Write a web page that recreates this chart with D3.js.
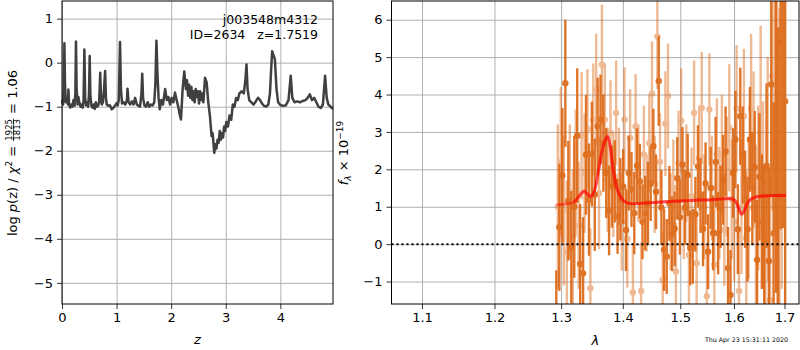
<!DOCTYPE html>
<html>
<head>
<meta charset="utf-8">
<script src="https://cdn.jsdelivr.net/npm/d3@7"></script>
<style>
  body { margin: 0; background: #fff; }
  svg { font-family: "DejaVu Sans", sans-serif; }
  text { white-space: pre; }
</style>
</head>
<body>
<div id="chart"></div>
<script>
// redshift posterior, left panel
const zGrid = [0, 0.02, 0.035, 0.044, 0.055, 0.07, 0.09, 0.11, 0.117, 0.13, 0.15, 0.17, 0.19, 0.21, 0.23, 0.245, 0.256, 0.268, 0.285, 0.30,
  0.32, 0.34, 0.36, 0.38, 0.395, 0.41, 0.425, 0.44, 0.46, 0.48, 0.495, 0.507, 0.52, 0.54, 0.56, 0.58, 0.60, 0.62, 0.64, 0.66,
  0.68, 0.69, 0.70, 0.715, 0.73, 0.75, 0.77, 0.79, 0.805, 0.82, 0.85, 0.88, 0.91, 0.94, 0.97, 1.00, 1.02, 1.04, 1.063, 1.08,
  1.10, 1.13, 1.16, 1.19, 1.20, 1.22, 1.25, 1.28, 1.31, 1.34, 1.37, 1.40, 1.43, 1.455, 1.47, 1.485, 1.51, 1.54, 1.57, 1.60,
  1.63, 1.66, 1.69, 1.71, 1.73, 1.75, 1.77, 1.79, 1.82, 1.85, 1.89, 1.92, 1.95, 1.98, 2.01, 2.04, 2.07, 2.10, 2.13, 2.16,
  2.18, 2.21, 2.24, 2.27, 2.29, 2.31, 2.33, 2.35, 2.37, 2.39, 2.41, 2.43, 2.45, 2.47, 2.49, 2.51, 2.53, 2.55, 2.57, 2.59,
  2.62, 2.65, 2.68, 2.71, 2.74, 2.76, 2.79, 2.81, 2.83, 2.85, 2.87, 2.89, 2.91, 2.93, 2.95, 2.97, 2.99, 3.01, 3.04, 3.07,
  3.10, 3.13, 3.16, 3.19, 3.22, 3.25, 3.29, 3.33, 3.36, 3.38, 3.40, 3.43, 3.47, 3.51, 3.55, 3.59, 3.63, 3.66, 3.70, 3.74,
  3.78, 3.81, 3.83, 3.85, 3.88, 3.90, 3.93, 3.96, 4.00, 4.05, 4.10, 4.15, 4.19, 4.22, 4.26, 4.31, 4.36, 4.41, 4.46, 4.50,
  4.54, 4.58, 4.62, 4.66, 4.70, 4.74, 4.78, 4.82, 4.85, 4.88, 4.92, 4.96];
const logPz = [-0.85, -0.95, -0.6, 0.44, -0.5, -0.9, -0.8, -0.95, -0.61, -0.95, -1.02, -0.95, -1.0, -0.85, -0.98, -0.7, 0.48, -0.6, -0.95, -0.78,
  -0.92, -1.0, -0.95, -1.02, -0.85, 0.30, -0.8, -0.97, -0.9, -1.0, -0.7, 0.15, -0.75, -0.98, -1.02, -0.95, -1.05, -0.9, -1.0, -0.98,
  -0.9, -0.6, -0.23, -0.8, -0.95, -0.9, -0.6, -0.19, -0.8, -0.95, -0.98, -0.97, -1.06, -1.03, -0.98, -0.92, -0.97, -0.85, 0.47, -0.6,
  -0.93, -0.9, -0.95, -0.85, -0.59, -0.9, -0.95, -0.88, -0.95, -0.8, -0.95, -0.98, -1.0, -0.7, -0.25, -0.8, -0.97, -1.0, -0.9, -1.0,
  -0.95, -0.97, -0.9, -0.5, 0.50, -0.3, -0.8, -1.06, -0.85, -0.95, -0.6, -0.85, -0.78, -0.95, -0.8, -0.9, -0.68, -0.85, -1.0, -1.2,
  -1.29, -0.6, -0.2, -0.6, -0.4, -0.75, -0.5, -0.8, -0.55, -0.85, -0.65, -0.9, -0.6, -0.78, -0.65, -0.93, -0.65, -0.85, -0.7, -0.9,
  -0.34, -0.45, -0.9, -1.21, -1.67, -1.6, -2.05, -1.85, -1.95, -1.75, -1.82, -1.55, -1.75, -1.6, -1.7, -1.45, -1.55, -1.35, -1.45, -1.2,
  -1.3, -0.95, -1.0, -0.8, -0.85, -0.7, -0.65, -0.7, -0.4, -0.04, -0.6, -0.85, -0.9, -0.95, -0.88, -0.8, -0.85, -0.92, -0.98, -1.0,
  -0.95, -0.7, -0.2, 0.26, 0.15, 0.08, -0.6, -0.9, -0.96, -0.98, -0.97, -0.85, -0.30, -0.8, -0.9, -0.88, -0.9, -0.87, -0.85, -0.8,
  -0.72, -0.85, -0.8, -0.9, -1.0, -1.03, -0.95, -0.30, -0.8, -0.95, -1.0, -1.05];

// spectrum, right panel: two grism orients
const lamA = [1.2925, 1.2972, 1.3019, 1.3066, 1.3113, 1.3160, 1.3207, 1.3254, 1.3301, 1.3348,
  1.3395, 1.3442, 1.3489, 1.3536, 1.3583, 1.3630, 1.3677, 1.3724, 1.3771, 1.3818,
  1.3865, 1.3912, 1.3959, 1.4006, 1.4053, 1.4100, 1.4147, 1.4194, 1.4241, 1.4288,
  1.4335, 1.4382, 1.4429, 1.4476, 1.4523, 1.4570, 1.4617, 1.4664, 1.4711, 1.4758,
  1.4805, 1.4852, 1.4899, 1.4946, 1.4993, 1.5040, 1.5087, 1.5134, 1.5181, 1.5228,
  1.5275, 1.5322, 1.5369, 1.5416, 1.5463, 1.5510, 1.5557, 1.5604, 1.5651, 1.5698,
  1.5745, 1.5792, 1.5839, 1.5886, 1.5933, 1.5980, 1.6027, 1.6074, 1.6121, 1.6168,
  1.6215, 1.6262, 1.6309, 1.6356, 1.6403, 1.6450, 1.6497, 1.6544, 1.6591, 1.6638,
  1.6685, 1.6732, 1.6779, 1.6826, 1.6873, 1.6920, 1.6967, 1.7014];
const fluxA = [-3.2, 0.45, 1.84, 4.30, 1.16, -0.08, 1.00, 2.90, -0.53, -0.78,
  2.39, 1.19, 2.41, 1.32, 3.15, 3.33, 2.70, 1.90, 0.90, 1.54,
  1.68, 0.74, 1.20, 1.54, 0.38, 1.90, 1.46, 0.83, 2.10, 1.68,
  0.60, 0.83, 1.10, 1.62, 2.62, 1.40, 4.36, 0.98, -0.15, -0.33,
  1.09, 0.28, 0.41, 1.76, 0.72, 2.13, 0.98, 1.85, -0.10, -0.06,
  0.80, 2.08, 1.30, 0.41, 1.62, -0.20, 1.50, 0.30, 2.20, 0.29,
  1.00, 1.72, 2.48, -0.64, -1.36, 1.90, 2.80, 0.40, 3.42, 2.38,
  1.20, 0.40, 2.80, 1.50, 2.06, -0.42, 1.80, 0.60, 0.09, 2.10,
  -0.45, 4.27, 0.29, 2.70, 1.30, 5.40, 5.93, 3.82];
const errA = [2.5, 1.7, 1.8, 1.7, 1.6, 1.5, 1.9, 1.8, 1.6, 1.5,
  1.6, 1.5, 1.4, 1.5, 1.3, 1.2, 1.3, 1.2, 1.2, 1.1,
  1.1, 1.0, 1.1, 1.0, 1.1, 1.0, 1.0, 1.1, 1.0, 1.0,
  1.0, 1.0, 1.1, 1.0, 1.0, 1.0, 1.2, 1.0, 1.1, 1.0,
  1.0, 1.0, 1.0, 1.1, 1.0, 1.0, 1.0, 1.1, 1.0, 1.0,
  1.0, 1.1, 1.0, 1.0, 1.1, 1.0, 1.1, 1.0, 1.2, 1.1,
  1.1, 1.2, 1.2, 1.1, 1.2, 1.2, 1.3, 1.2, 1.3, 1.3,
  1.3, 1.4, 1.4, 1.5, 1.5, 1.6, 1.7, 1.8, 2.0, 2.2,
  2.5, 3.0, 3.5, 4.0, 4.5, 5.0, 5.5, 6.0];

const lamB = [1.2948, 1.2995, 1.3042, 1.3089, 1.3136, 1.3183, 1.3230, 1.3277, 1.3324, 1.3371,
  1.3418, 1.3465, 1.3512, 1.3559, 1.3606, 1.3653, 1.3700, 1.3747, 1.3794, 1.3841,
  1.3888, 1.3935, 1.3982, 1.4029, 1.4076, 1.4123, 1.4170, 1.4217, 1.4264, 1.4311,
  1.4358, 1.4405, 1.4452, 1.4499, 1.4546, 1.4593, 1.4640, 1.4687, 1.4734, 1.4781,
  1.4828, 1.4875, 1.4922, 1.4969, 1.5016, 1.5063, 1.5110, 1.5157, 1.5204, 1.5251,
  1.5298, 1.5345, 1.5392, 1.5439, 1.5486, 1.5533, 1.5580, 1.5627, 1.5674, 1.5721,
  1.5768, 1.5815, 1.5862, 1.5909, 1.5956, 1.6003, 1.6050, 1.6097, 1.6144, 1.6191,
  1.6238, 1.6285, 1.6332, 1.6379, 1.6426, 1.6473, 1.6520, 1.6567, 1.6614, 1.6661,
  1.6708, 1.6755, 1.6802, 1.6849, 1.6896, 1.6943];
const fluxB = [1.0, 2.2, 0.9, -0.2, 1.4, 0.2, 1.9, 0.5, 2.9, 1.9,
  3.08, -1.18, 3.33, 4.13, 1.37, 4.8, 3.33, 1.72, 2.98, 1.59,
  3.51, 1.81, 0.59, 3.33, 0.14, 2.84, -1.29, 3.15, 1.9, -1.25,
  2.4, 1.1, 2.7, 4.02, 1.6, 5.55, 2.2, -0.96, 3.22, 3.96,
  0.6, 1.5, -0.73, 2.17, 3.3, 0.9, 1.9, -0.29, 1.28, 3.51,
  -0.51, 2.3, 3.64, 1.0, -1.39, 3.6, 1.5, -0.55, 2.4, 1.1,
  2.39, 0.38, 1.81, 3.11, 1.2, 0.6, 3.62, -1.25, 1.0, 3.42,
  0.16, 0.97, 3.62, 2.62, 0.5, 1.5, 3.54, 1.32, -0.6, 2.0,
  -1.49, 4.49, 4.36, 2.7, 1.3, 4.3];
const errB = [2.2, 2.0, 2.0, 1.9, 1.8, 1.8, 1.7, 1.7, 1.7, 1.6,
  1.6, 1.6, 1.5, 1.5, 1.5, 1.6, 1.5, 1.4, 1.4, 1.4,
  1.4, 1.3, 1.3, 1.4, 1.3, 1.3, 1.3, 1.4, 1.3, 1.3,
  1.3, 1.3, 1.3, 1.4, 1.3, 1.4, 1.3, 1.3, 1.4, 1.4,
  1.3, 1.3, 1.3, 1.4, 1.4, 1.3, 1.3, 1.4, 1.3, 1.4,
  1.4, 1.4, 1.5, 1.4, 1.4, 1.5, 1.4, 1.5, 1.5, 1.5,
  1.6, 1.5, 1.6, 1.7, 1.6, 1.6, 1.7, 1.7, 1.8, 1.8,
  1.8, 1.9, 2.0, 2.0, 2.1, 2.2, 2.3, 2.5, 2.7, 3.0,
  3.3, 3.6, 4.0, 4.5, 5.0, 5.5];

// best-fit model
const modelLam = [1.293, 1.300, 1.310, 1.320, 1.327, 1.333, 1.337, 1.341, 1.346, 1.350, 1.355, 1.360, 1.365, 1.370, 1.375, 1.379, 1.383,
  1.387, 1.392, 1.398, 1.405, 1.415, 1.430, 1.450, 1.480, 1.520, 1.560, 1.590, 1.598, 1.605, 1.610, 1.615, 1.620, 1.627, 1.635,
  1.645, 1.660, 1.680, 1.703];
const modelFlux = [1.05, 1.06, 1.08, 1.12, 1.25, 1.38, 1.42, 1.35, 1.28, 1.32, 1.55, 2.0, 2.45, 2.75, 2.88, 2.6, 2.1,
  1.7, 1.4, 1.22, 1.12, 1.08, 1.09, 1.11, 1.14, 1.17, 1.19, 1.22, 1.20, 1.10, 0.92, 0.80, 0.90, 1.12, 1.22,
  1.27, 1.29, 1.30, 1.30];

const zTicks = [0, 1, 2, 3, 4];
const pzTicks = [-5, -4, -3, -2, -1, 0, 1];
const lamTicks = [1.1, 1.2, 1.3, 1.4, 1.5, 1.6, 1.7];
const fluxTicks = [-1, 0, 1, 2, 3, 4, 5, 6];

const W = 800, H = 350;
const svg = d3.select('#chart').append('svg').attr('width', W).attr('height', H);

const gridColor = '#b0b0b0';
const fs = 13;

function styleAxis(g) {
  g.selectAll('.domain').remove();
  g.selectAll('.tick line').attr('stroke', '#000').attr('stroke-width', 0.8);
  g.selectAll('.tick text').attr('font-size', fs).attr('fill', '#000').attr('font-family', 'DejaVu Sans');
}

function gridAxis(g) {
  g.selectAll('.domain').remove();
  g.selectAll('.tick text').remove();
  g.selectAll('.tick line').attr('stroke', gridColor).attr('stroke-width', 1);
}

// ---------- left panel ----------
const L = {x0: 62, x1: 333, y0: 1, y1: 304};
const xz = d3.scaleLinear().domain([0, 4.965]).range([L.x0, L.x1]);
const yp = d3.scaleLinear().domain([-5.48, 1.40]).range([L.y1, L.y0]);

svg.append('g').attr('transform', `translate(0,${L.y1})`)
  .call(d3.axisBottom(xz).tickValues(zTicks).tickSize(-(L.y1 - L.y0)).tickFormat('')).call(gridAxis);
svg.append('g').attr('transform', `translate(${L.x0},0)`)
  .call(d3.axisLeft(yp).tickValues(pzTicks).tickSize(-(L.x1 - L.x0)).tickFormat('')).call(gridAxis);

svg.append('path')
  .datum(zGrid.map((z, i) => [z, logPz[i]]))
  .attr('fill', 'none').attr('stroke', '#404040').attr('stroke-width', 2.5)
  .attr('stroke-linejoin', 'round')
  .attr('d', d3.line().x(d => xz(d[0])).y(d => yp(d[1])));

svg.append('g').attr('transform', `translate(0,${L.y1})`)
  .call(d3.axisBottom(xz).tickValues(zTicks).tickSize(5).tickPadding(4).tickFormat(d3.format('d'))).call(styleAxis);
svg.append('g').attr('transform', `translate(${L.x0},0)`)
  .call(d3.axisLeft(yp).tickValues(pzTicks).tickSize(5).tickPadding(4).tickFormat(d3.format('d'))).call(styleAxis);

svg.append('rect').attr('x', L.x0).attr('y', L.y0).attr('width', L.x1 - L.x0).attr('height', L.y1 - L.y0)
  .attr('fill', 'none').attr('stroke', '#000').attr('stroke-width', 1);

svg.append('text').attr('x', 318).attr('y', 24).attr('text-anchor', 'end').attr('font-size', 12.5).text('j003548m4312');
svg.append('text').attr('x', 318).attr('y', 38.5).attr('text-anchor', 'end').attr('font-size', 12.5).text('ID=2634   z=1.7519');

svg.append('text').attr('x', (L.x0 + L.x1) / 2).attr('y', 344).attr('text-anchor', 'middle')
  .attr('font-size', fs).attr('font-style', 'italic').text('z');

// y label with a small fraction
(function () {
  const outer = svg.append('g').attr('transform', 'translate(17,153) rotate(-90)');
  const g = outer.append('g');
  const t1 = g.append('text').attr('font-size', fs);
  t1.append('tspan').text('log ');
  t1.append('tspan').attr('font-style', 'italic').text('p');
  t1.append('tspan').text('(z) / ');
  t1.append('tspan').attr('font-style', 'italic').text('χ');
  t1.append('tspan').attr('font-size', 9).attr('dy', -5).text('2');
  t1.append('tspan').attr('dy', 5).text(' = ');
  const w1 = t1.node().getComputedTextLength();
  const num = g.append('text').attr('font-size', 8.5).attr('x', w1 + 1).attr('y', -4.8).text('1925');
  const den = g.append('text').attr('font-size', 8.5).attr('x', w1 + 1).attr('y', 3.4).text('1813');
  const wf = Math.max(num.node().getComputedTextLength(), den.node().getComputedTextLength()) + 2;
  g.append('line').attr('x1', w1 + 0.5).attr('x2', w1 + wf - 0.5).attr('y1', -3.5).attr('y2', -3.5)
    .attr('stroke', '#000').attr('stroke-width', 0.7);
  const t2 = g.append('text').attr('font-size', fs).attr('x', w1 + wf).text(' = 1.06');
  const total = w1 + wf + t2.node().getComputedTextLength();
  g.attr('transform', `translate(${-total / 2},0)`);
})();

// ---------- right panel ----------
const R = {x0: 391.5, x1: 799, y0: 1, y1: 304};
const xl = d3.scaleLog().domain([1.0604, 1.7299]).range([R.x0, R.x1]);
const yf = d3.scaleLinear().domain([-1.6, 6.5]).range([R.y1, R.y0]);

svg.append('defs').append('clipPath').attr('id', 'clipR')
  .append('rect').attr('x', R.x0).attr('y', R.y0).attr('width', R.x1 - R.x0).attr('height', R.y1 - R.y0);

svg.append('g').attr('transform', `translate(0,${R.y1})`)
  .call(d3.axisBottom(xl).tickValues(lamTicks).tickSize(-(R.y1 - R.y0)).tickFormat('')).call(gridAxis);
svg.append('g').attr('transform', `translate(${R.x0},0)`)
  .call(d3.axisLeft(yf).tickValues(fluxTicks).tickSize(-(R.x1 - R.x0)).tickFormat('')).call(gridAxis);

const plotR = svg.append('g').attr('clip-path', 'url(#clipR)');

function drawSeries(lam, flux, err, color, opacity) {
  const pts = lam.map((l, i) => ({l, f: flux[i], e: err[i]}));
  const g = plotR.append('g').attr('opacity', opacity);
  g.selectAll('line').data(pts).enter().append('line')
    .attr('x1', d => xl(d.l)).attr('x2', d => xl(d.l))
    .attr('y1', d => yf(d.f - d.e)).attr('y2', d => yf(d.f + d.e))
    .attr('stroke', color).attr('stroke-width', 2.4);
  g.selectAll('circle').data(pts).enter().append('circle')
    .attr('cx', d => xl(d.l)).attr('cy', d => yf(d.f)).attr('r', 3.2)
    .attr('fill', color);
}

drawSeries(lamB, fluxB, errB, '#dc6612', 0.45);
drawSeries(lamA, fluxA, errA, '#dc6612', 0.9);

plotR.append('line').attr('x1', R.x0).attr('x2', R.x1).attr('y1', yf(0)).attr('y2', yf(0))
  .attr('stroke', '#000').attr('stroke-width', 2).attr('stroke-dasharray', '2,3');

const modelPts = modelLam.map((l, i) => [l, modelFlux[i]]);
const mline = d3.line().curve(d3.curveMonotoneX).x(d => xl(d[0])).y(d => yf(d[1]));
plotR.append('path').datum(modelPts).attr('d', mline)
  .attr('fill', 'none').attr('stroke', '#ff0000').attr('stroke-width', 3).attr('opacity', 0.45);
plotR.append('path').datum(modelPts.filter(d => d[0] >= 1.315)).attr('d', mline)
  .attr('fill', 'none').attr('stroke', '#ff0000').attr('stroke-width', 3).attr('opacity', 0.45);

svg.append('g').attr('transform', `translate(0,${R.y1})`)
  .call(d3.axisBottom(xl).tickValues(lamTicks).tickSize(5).tickPadding(4).tickFormat(d3.format('.1f'))).call(styleAxis);
svg.append('g').attr('transform', `translate(${R.x0},0)`)
  .call(d3.axisLeft(yf).tickValues(fluxTicks).tickSize(5).tickPadding(4).tickFormat(d3.format('d'))).call(styleAxis);

svg.append('rect').attr('x', R.x0).attr('y', R.y0).attr('width', R.x1 - R.x0).attr('height', R.y1 - R.y0)
  .attr('fill', 'none').attr('stroke', '#000').attr('stroke-width', 1);

svg.append('text').attr('x', (R.x0 + R.x1) / 2).attr('y', 345).attr('text-anchor', 'middle')
  .attr('font-size', fs).attr('font-style', 'italic').text('λ');

(function () {
  const t = svg.append('g').attr('transform', 'translate(348,153) rotate(-90)')
    .append('text').attr('text-anchor', 'middle').attr('font-size', fs);
  t.append('tspan').attr('font-style', 'italic').text('f');
  t.append('tspan').attr('font-size', 9).attr('font-style', 'italic').attr('dy', 3).text('λ');
  t.append('tspan').attr('dy', -3).text(' × 10');
  t.append('tspan').attr('font-size', 9).attr('dy', -5).text('−19');
})();

svg.append('text').attr('x', 788).attr('y', 342).attr('text-anchor', 'end').attr('font-size', 6.3)
  .text('Thu Apr 23 15:31:11 2020');
</script>
</body>
</html>
